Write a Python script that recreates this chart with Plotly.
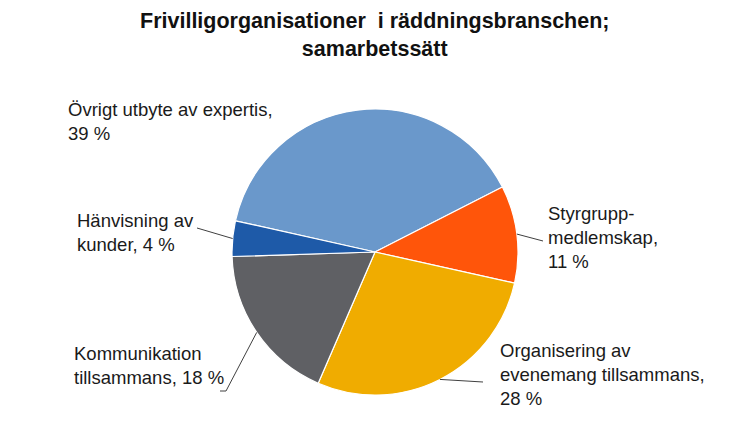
import math

import plotly.graph_objects as go

W, H = 750, 436

labels = [
    "Övrigt utbyte av expertis",
    "Styrgrupp-medlemskap",
    "Organisering av evenemang tillsammans",
    "Kommunikation tillsammans",
    "Hänvisning av kunder",
]
values = [39, 11, 28, 18, 4]
label_text = [
    "Övrigt utbyte av expertis,<br>39 %",
    "Styrgrupp-<br>medlemskap,<br>11 %",
    "Organisering av<br>evenemang tillsammans,<br>28 %",
    "Kommunikation<br>tillsammans, 18 %",
    "Hänvisning av<br>kunder, 4 %",
]
colors = ["#6A98CB", "#FF550A", "#F0AC00", "#5F6064", "#1E5AA8"]

ROTATION = 282.6
CX, CY, R = 375, 252, 143

# label block (left x, centre y) in pixels, and leader tail points
label_pos = [(66, 121), (546, 237), (498, 374), (72, 365), (75, 233)]
leader_tail = [None, [(543, 241)], [(483, 382)], [(220, 391), (226, 391)], [(197, 228)]]


def px(x):
    return x / W


def py(y):
    return 1 - y / H


fig = go.Figure()
fig.add_trace(go.Pie(
    labels=labels,
    values=values,
    sort=False,
    direction="clockwise",
    rotation=ROTATION,
    marker=dict(colors=colors, line=dict(color="white", width=1.2)),
    textinfo="none",
    hoverinfo="label+percent",
    showlegend=False,
    domain=dict(x=[px(CX - R), px(CX + R)], y=[py(CY + R), py(CY - R)]),
))

total = sum(values)
start = 90 - ROTATION
cum = 0
shapes = []
annotations = []
for i, v in enumerate(values):
    mid = math.radians(start - (cum + v / 2) / total * 360)
    cum += v
    tip = (CX + R * math.cos(mid), CY - R * math.sin(mid))
    lx, ly = label_pos[i]
    annotations.append(dict(
        x=px(lx), y=py(ly), xref="paper", yref="paper",
        xanchor="left", yanchor="middle", align="left",
        text=label_text[i], showarrow=False,
        font=dict(family="Liberation Sans, Arial", size=18.5, color="#1a1a1a"),
    ))
    if leader_tail[i]:
        pts = leader_tail[i] + [tip]
        path = "M " + " L ".join(f"{px(x)},{py(y)}" for x, y in pts)
        shapes.append(dict(type="path", path=path, xref="paper", yref="paper",
                           line=dict(color="#404040", width=1)))

annotations.append(dict(
    x=0.5, y=py(35), xref="paper", yref="paper",
    xanchor="center", yanchor="middle", align="center",
    text="<b>Frivilligorganisationer  i räddningsbranschen;<br>samarbetssätt</b>",
    showarrow=False,
    font=dict(family="Liberation Sans, Arial", size=21.5, color="#111111"),
))

fig.update_layout(
    width=W,
    height=H,
    margin=dict(l=0, r=0, t=0, b=0),
    paper_bgcolor="white",
    plot_bgcolor="white",
    shapes=shapes,
    annotations=annotations,
)

fig.write_html(
    "out.html",
    config={"displayModeBar": False},
    post_script="document.body.style.margin = '0';",
)
